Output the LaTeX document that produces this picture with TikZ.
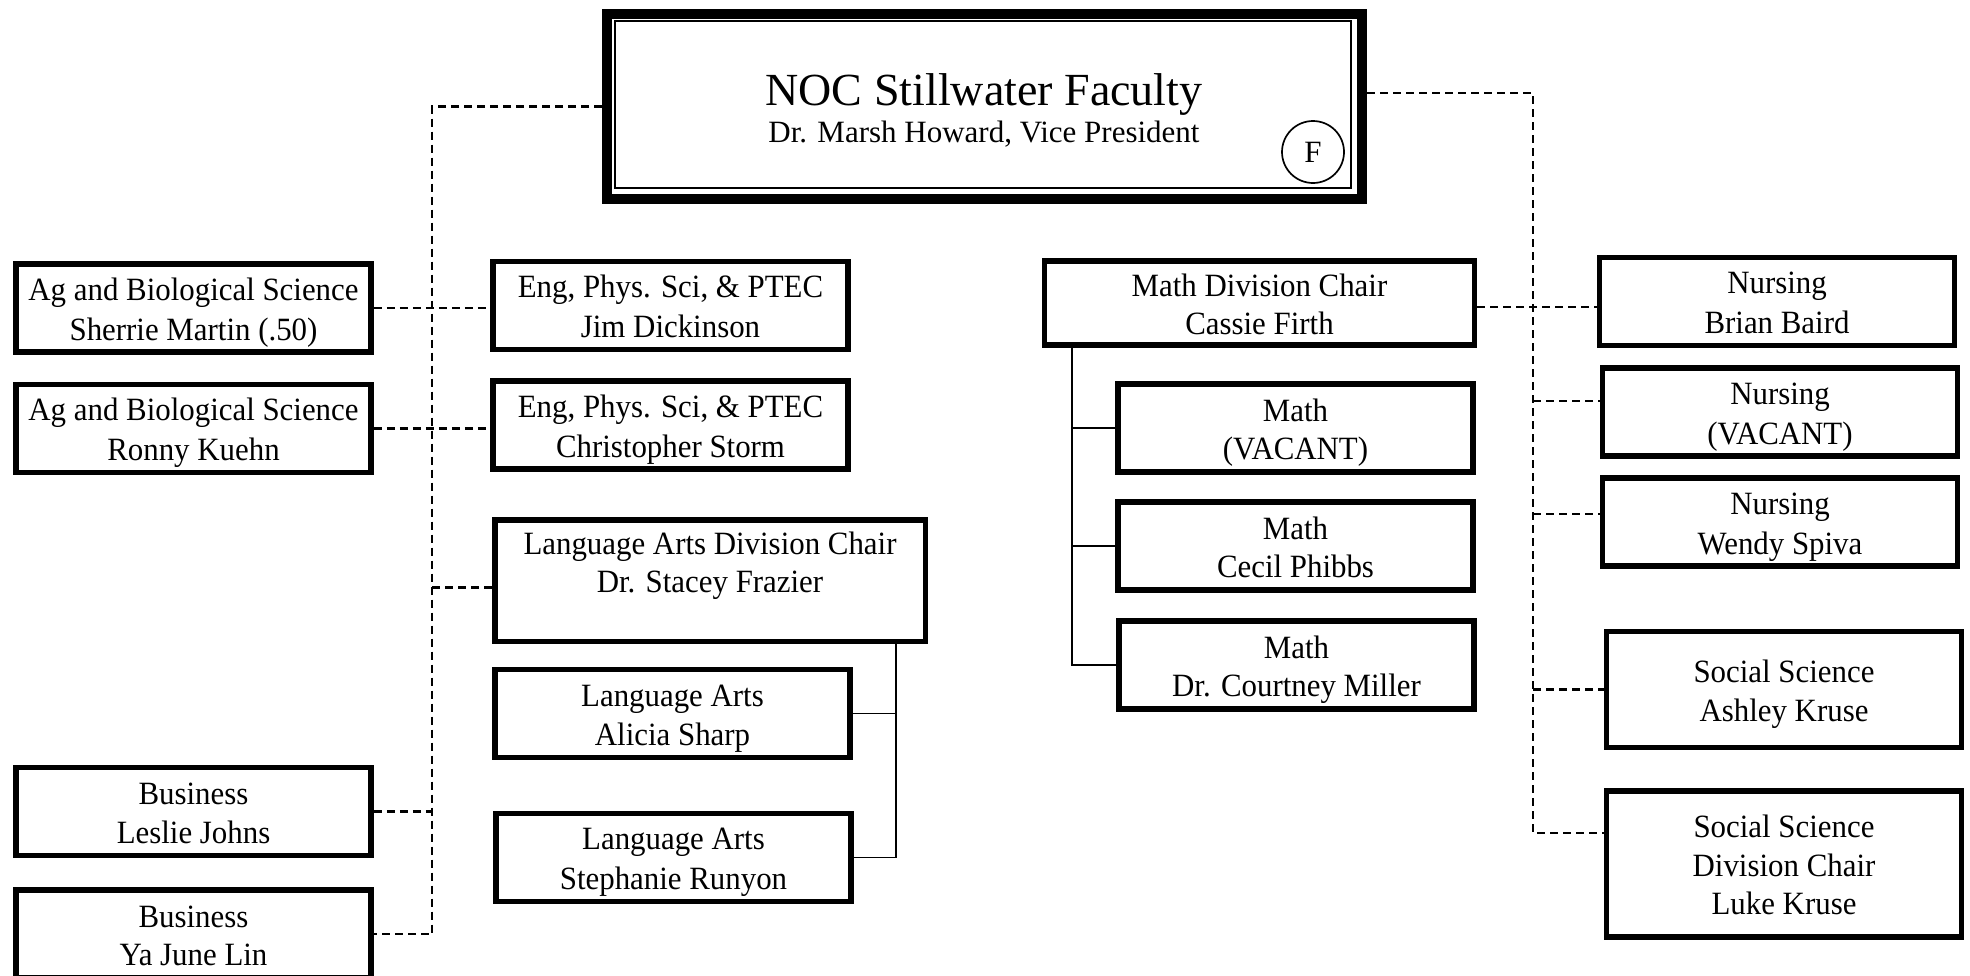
\documentclass[tikz,border=0pt]{standalone}
\usepackage{fontspec}
\setmainfont{Liberation Serif}
\newfontfamily\boxfont{Liberation Serif}[FakeStretch=0.95]
\newcommand{\bs}{\rule[-7pt]{0pt}{38.5pt}}
\usetikzlibrary{calc}
\begin{document}
\begin{tikzpicture}[x=1pt,y=-1pt,
  box/.style={draw, line width=5.5pt, minimum width=355pt, minimum height=88pt, inner sep=0pt, align=center, font=\boxfont\fontsize{32.5}{38.5}\selectfont},
  dline/.style={line width=2.7pt, dash pattern=on 8pt off 5pt},
  sline/.style={line width=1.8pt}]
\fill[white] (0,0) rectangle (1970,975);
\path[use as bounding box, clip] (0,0) rectangle (1970,975);

% top box
\node[draw, line width=10pt, minimum width=755pt, minimum height=185pt, inner sep=0pt] (top) at (984.5,106.5) {};
\draw[line width=2pt] ([shift={(13pt,-12pt)}]top.north west) rectangle ([shift={(-16pt,16pt)}]top.south east);
\node[font=\fontsize{46}{50}\selectfont, inner sep=0pt, anchor=base] (title) at (984,105) {NOC Stillwater Faculty};
\node[font=\fontsize{31}{36}\selectfont, inner sep=0pt, anchor=base] (sub) at (984,142) {Dr. Marsh Howard, Vice President};
\node[draw, circle, line width=1.7pt, minimum size=62pt, inner sep=0pt, font=\fontsize{31}{36}\selectfont] (f) at (1313,152) {F};

% left column
\node[box] (ag1) at (193.5,308) {\bs Ag and Biological Science\\\bs Sherrie Martin (.50)};
\node[box] (ag2) at (193.5,428.5) {\bs Ag and Biological Science\\\bs Ronny Kuehn};
\node[box] (bus1) at (193.5,811.5) {\bs Business\\\bs Leslie Johns};
\node[box] (bus2) at (193.5,934) {\bs Business\\\bs Ya June Lin};

% second column
\node[box] (eng1) at (670.5,305.5) {\bs Eng, Phys. Sci, \& PTEC\\\bs Jim Dickinson};
\node[box] (eng2) at (670.5,425) {\bs Eng, Phys. Sci, \& PTEC\\\bs Christopher Storm};
\node[box, minimum width=430.5pt, minimum height=121.5pt] (lachair) at (710,580.5) {\bs Language Arts Division Chair\\\rule[-46pt]{0pt}{74.5pt}Dr. Stacey Frazier};
\node[box] (la1) at (672.5,713.5) {\bs Language Arts\\\bs Alicia Sharp};
\node[box] (la2) at (673.5,857.5) {\bs Language Arts\\\bs Stephanie Runyon};

% math column
\node[box, minimum width=430pt, minimum height=84pt] (mchair) at (1259.5,303) {\bs Math Division Chair\\\bs Cassie Firth};
\node[box] (m1) at (1295.5,428) {\bs Math\\\bs (VACANT)};
\node[box] (m2) at (1295.5,546) {\bs Math\\\bs Cecil Phibbs};
\node[box] (m3) at (1296.5,665) {\bs Math\\\bs Dr. Courtney Miller};

% right column
\node[box] (n1) at (1777,301.5) {\bs Nursing\\\bs Brian Baird};
\node[box] (n2) at (1780,412) {\bs Nursing\\\bs (VACANT)};
\node[box] (n3) at (1780,522) {\bs Nursing\\\bs Wendy Spiva};
\node[box, minimum height=116pt] (ss1) at (1784,689.5) {\bs Social Science\\\bs Ashley Kruse};
\node[box, minimum height=146pt] (ss2) at (1784,864) {\bs Social Science\\\bs Division Chair\\\bs Luke Kruse};

% trunks
\coordinate (trunkL) at (432,0);
\coordinate (trunkR) at (1533,0);
\coordinate (mtrunk) at (1072,0);
\coordinate (latrunk) at (896,0);
\coordinate (topR) at ([yshift=13.5pt]top.east);
\coordinate (lap) at ([yshift=-7pt]lachair.west);
\coordinate (mcp) at ([yshift=-4pt]mchair.east);
\coordinate (n2p) at ([yshift=11pt]n2.west);
\coordinate (n3p) at ([yshift=8pt]n3.west);
\coordinate (ss2p) at ([yshift=31pt]ss2.west);

% dashed connectors
\draw[dline] (top.west) -| (trunkL |- bus2.east) -- (bus2.east);
\draw[dline] (ag1.east) -- (ag1.east -| eng1.west);
\draw[dline] (ag2.east) -- (ag2.east -| eng2.west);
\draw[dline] (trunkL |- lap) -- (lap);
\draw[dline] (bus1.east) -- (trunkL |- bus1.east);
\draw[dline] (topR) -| (trunkR |- ss2p) -- (ss2p);
\draw[dline] (mcp) -- (mcp -| n1.west);
\draw[dline] (trunkR |- n2p) -- (n2p);
\draw[dline] (trunkR |- n3p) -- (n3p);
\draw[dline] (trunkR |- ss1.west) -- (ss1.west);

% solid connectors
\draw[sline] (mtrunk |- mchair.south) |- (m3.west);
\draw[sline] (mtrunk |- m1.west) -- (m1.west);
\draw[sline] (mtrunk |- m2.west) -- (m2.west);
\draw[sline] (latrunk |- lachair.south) |- (la2.east);
\draw[sline] (latrunk |- la1.east) -- (la1.east);
\end{tikzpicture}
\end{document}
